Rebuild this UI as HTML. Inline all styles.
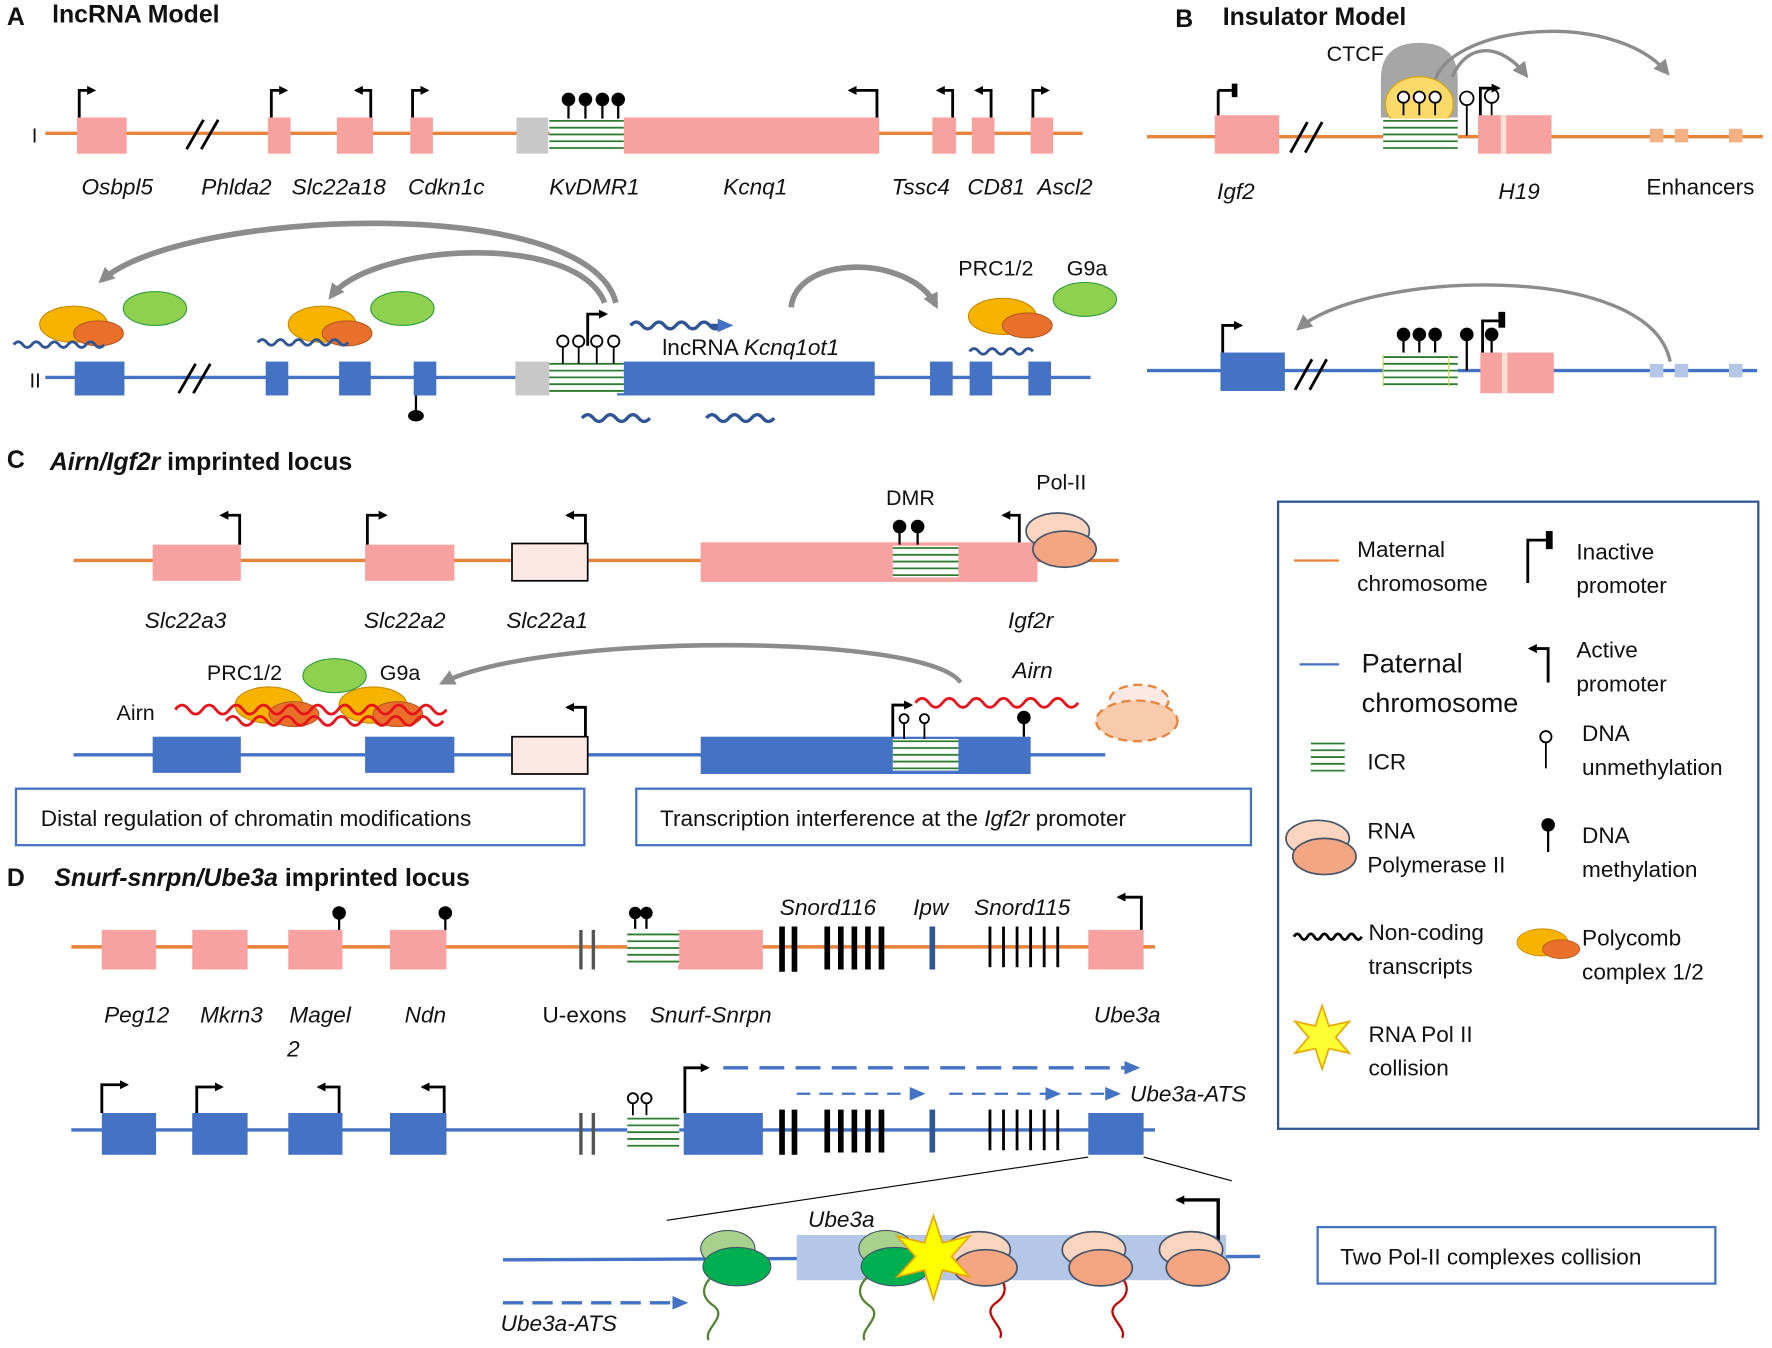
<!DOCTYPE html>
<html><head><meta charset="utf-8"><style>
html,body{margin:0;padding:0;background:#fff}
svg{display:block}
text{font-family:"Liberation Sans",sans-serif;fill:#111}
.it{font-style:italic}
.b{font-weight:bold}
</style></head><body>
<svg width="1772" height="1348" viewBox="0 0 1568 1193" xmlns="http://www.w3.org/2000/svg">
<defs>
<marker id="ah" markerWidth="8" markerHeight="8" refX="6" refY="4" orient="auto" markerUnits="userSpaceOnUse"><path d="M0,0 L8,4 L0,8 z" fill="#000"/></marker>
<marker id="ga" markerWidth="14" markerHeight="14" refX="10" refY="7" orient="auto" markerUnits="userSpaceOnUse"><path d="M0,0 L14,7 L0,14 z" fill="#8c8c8c"/></marker>
<marker id="ba" markerWidth="14" markerHeight="12" refX="10" refY="6" orient="auto" markerUnits="userSpaceOnUse"><path d="M0,0 L14,6 L0,12 z" fill="#4472c4"/></marker>
<g id="icr"><rect x="0" y="0" width="66" height="28" fill="#fff"/><path d="M0,2H66M0,8H66M0,14H66M0,20H66M0,26H66" stroke="#2e7d32" stroke-width="1.6"/></g>
<g id="icr2"><rect x="0" y="0" width="46" height="30" fill="#fff"/><path d="M0,3H46M0,9H46M0,15H46M0,21H46M0,27H46" stroke="#2e7d32" stroke-width="1.6"/></g>
<g id="pc"><ellipse cx="0" cy="0" rx="30" ry="16" fill="#f6b400" stroke="#c98a00"/><ellipse cx="22" cy="8" rx="22" ry="11" fill="#e8702a" stroke="#b85a20"/></g>
<g id="pol"><ellipse cx="0" cy="-10" rx="28" ry="16" fill="#fbd5bf" stroke="#44546a" stroke-width="1.5"/><ellipse cx="6" cy="6" rx="28" ry="16" fill="#f4a582" stroke="#44546a" stroke-width="1.5"/></g>
</defs>

<!-- ===== A ===== -->
<text x="6" y="22" font-size="22" class="b">A</text>
<text x="46" y="20" font-size="22" class="b">lncRNA Model</text>
<text x="28" y="126" font-size="18">I</text>
<line x1="40" y1="118" x2="958" y2="118" stroke="#e8833a" stroke-width="3"/>
<g fill="#f7a1a1">
<rect x="68" y="104" width="44" height="32"/><rect x="237" y="104" width="20" height="32"/><rect x="298" y="104" width="32" height="32"/><rect x="363" y="104" width="20" height="32"/><rect x="552" y="104" width="226" height="32"/><rect x="825" y="104" width="21" height="32"/><rect x="860" y="104" width="20" height="32"/><rect x="912" y="104" width="20" height="32"/></g>
<rect x="457" y="104" width="28" height="32" fill="#c8c8c8"/>
<use href="#icr" x="486" y="105"/>
<path d="M165,132 L180,106 M178,132 L193,106" stroke="#000" stroke-width="2.5"/>
<g stroke="#000" stroke-width="2.5" fill="none">
<path d="M70,104V80H83" marker-end="url(#ah)"/><path d="M240,104V80H253" marker-end="url(#ah)"/><path d="M328,104V80H315" marker-end="url(#ah)"/><path d="M365,104V80H378" marker-end="url(#ah)"/><path d="M776,104V80H752" marker-end="url(#ah)"/><path d="M843,104V80H830" marker-end="url(#ah)"/><path d="M877,104V80H864" marker-end="url(#ah)"/><path d="M914,104V80H927" marker-end="url(#ah)"/></g>
<g stroke="#000" stroke-width="2"><line x1="503" y1="90" x2="503" y2="105"/><line x1="518" y1="90" x2="518" y2="105"/><line x1="533" y1="90" x2="533" y2="105"/><line x1="547" y1="90" x2="547" y2="105"/></g>
<g fill="#000"><circle cx="503" cy="88" r="6"/><circle cx="518" cy="88" r="6"/><circle cx="533" cy="88" r="6"/><circle cx="547" cy="88" r="6"/></g>
<g font-size="20" class="it"><text x="72" y="172">Osbpl5</text><text x="178" y="172">Phlda2</text><text x="258" y="172">Slc22a18</text><text x="361" y="172">Cdkn1c</text><text x="486" y="172">KvDMR1</text><text x="640" y="172">Kcnq1</text><text x="789" y="172">Tssc4</text><text x="856" y="172">CD81</text><text x="918" y="172">Ascl2</text></g>

<!-- A II -->
<text x="26" y="343" font-size="18">II</text>
<line x1="40" y1="334" x2="965" y2="334" stroke="#4472c4" stroke-width="3"/>
<g fill="#4472c4"><rect x="66" y="320" width="44" height="30"/><rect x="235" y="320" width="20" height="30"/><rect x="300" y="320" width="28" height="30"/><rect x="366" y="320" width="20" height="30"/><rect x="546" y="320" width="228" height="30"/><rect x="823" y="320" width="20" height="30"/><rect x="858" y="320" width="20" height="30"/><rect x="910" y="320" width="20" height="30"/></g>
<rect x="456" y="320" width="30" height="30" fill="#c8c8c8"/>
<use href="#icr" x="486" y="320"/>
<path d="M158,348 L173,322 M171,348 L186,322" stroke="#000" stroke-width="2.5"/>
<line x1="368" y1="350" x2="368" y2="366" stroke="#000" stroke-width="2"/><ellipse cx="368" cy="368" rx="7" ry="5" fill="#000"/>
<g stroke="#000" stroke-width="1.6" fill="#fff"><line x1="498" y1="322" x2="498" y2="306"/><line x1="512" y1="322" x2="512" y2="306"/><line x1="528" y1="322" x2="528" y2="306"/><line x1="543" y1="322" x2="543" y2="306"/><circle cx="498" cy="302" r="5"/><circle cx="512" cy="302" r="5"/><circle cx="528" cy="302" r="5"/><circle cx="543" cy="302" r="5"/></g>
<path d="M520,306V278H536" stroke="#000" stroke-width="2.5" fill="none" marker-end="url(#ah)"/>
<path d="M558,288 q5,-6 10,0 t10,0 t10,0 t10,0 t10,0 t10,0 t10,0 t10,0" stroke="#2f5597" stroke-width="3" fill="none"/>
<path d="M628,288H645" stroke="#2f5597" stroke-width="3" marker-end="url(#ba)"/>
<text x="586" y="314" font-size="20">lncRNA <tspan class="it">Kcnq1ot1</tspan></text>
<path d="M515,370 q5,-6 10,0 t10,0 t10,0 t10,0 t10,0 t10,0" stroke="#2f5597" stroke-width="3" fill="none"/>
<path d="M625,370 q5,-6 10,0 t10,0 t10,0 t10,0 t10,0 t10,0" stroke="#2f5597" stroke-width="3" fill="none"/>
<g stroke="#8c8c8c" stroke-width="5" fill="none">
<path d="M545,268 C520,170 160,185 90,248" marker-end="url(#ga)"/>
<path d="M535,268 C510,205 330,215 293,262" marker-end="url(#ga)"/>
<path d="M700,272 C705,225 805,225 828,270" marker-end="url(#ga)"/></g>
<use href="#pc" x="65" y="287"/><ellipse cx="137" cy="273" rx="28" ry="15" fill="#8fd14f" stroke="#2e9e3e"/>
<use href="#pc" x="285" y="287"/><ellipse cx="356" cy="273" rx="28" ry="15" fill="#8fd14f" stroke="#2e9e3e"/>
<use href="#pc" x="887" y="280"/><ellipse cx="960" cy="265" rx="28" ry="15" fill="#8fd14f" stroke="#2e9e3e"/>
<path d="M12,305 q4,-5 8,0 t8,0 t8,0 t8,0 t8,0 t8,0 t8,0 t8,0 t8,0 t8,0" stroke="#2f5597" stroke-width="2.5" fill="none"/>
<path d="M228,303 q4,-5 8,0 t8,0 t8,0 t8,0 t8,0 t8,0 t8,0 t8,0 t8,0 t8,0" stroke="#2f5597" stroke-width="2.5" fill="none"/>
<path d="M858,311 q4,-5 8,0 t8,0 t8,0 t8,0 t8,0 t8,0 t8,0" stroke="#2f5597" stroke-width="2.5" fill="none"/>
<text x="848" y="244" font-size="19">PRC1/2</text><text x="944" y="244" font-size="19">G9a</text>

<!-- ===== B ===== -->
<text x="1040" y="24" font-size="22" class="b">B</text>
<text x="1082" y="22" font-size="22" class="b">Insulator Model</text>
<line x1="1015" y1="121" x2="1560" y2="121" stroke="#e8833a" stroke-width="3"/>
<rect x="1075" y="102" width="57" height="34" fill="#f7a1a1"/>
<path d="M1142,135 L1157,108 M1155,135 L1170,108" stroke="#000" stroke-width="2.5"/>
<path d="M1222,104 V70 Q1222,38 1256,38 Q1290,38 1290,70 V104 Z" fill="#a6a6a6"/>
<text x="1174" y="54" font-size="19">CTCF</text>
<ellipse cx="1256" cy="92" rx="30" ry="24" fill="#fcd96b" stroke="#d9a800"/>
<use href="#icr" x="1224" y="105"/>
<g stroke="#000" stroke-width="1.6" fill="#fff"><line x1="1242" y1="102" x2="1242" y2="90"/><line x1="1256" y1="102" x2="1256" y2="90"/><line x1="1270" y1="102" x2="1270" y2="90"/><circle cx="1242" cy="86" r="5"/><circle cx="1256" cy="86" r="5"/><circle cx="1270" cy="86" r="5"/><line x1="1298" y1="120" x2="1298" y2="92"/><circle cx="1298" cy="87" r="6"/><line x1="1320" y1="104" x2="1320" y2="90"/><circle cx="1320" cy="85" r="6"/></g>
<rect x="1308" y="102" width="65" height="34" fill="#f7a1a1"/><rect x="1328" y="102" width="5" height="34" fill="#fbe0d0"/>
<path d="M1310,102V78H1326" stroke="#000" stroke-width="2.5" fill="none" marker-end="url(#ah)"/>
<path d="M1078,102V80" stroke="#000" stroke-width="2.5"/><path d="M1078,80H1090" stroke="#000" stroke-width="2.5"/><rect x="1090" y="74" width="5" height="12" fill="#000"/>
<g fill="#f4b183"><rect x="1460" y="114" width="12" height="12"/><rect x="1482" y="114" width="12" height="12"/><rect x="1530" y="114" width="12" height="12"/></g>
<g stroke="#8c8c8c" stroke-width="3" fill="none"><path d="M1270,70 C1290,20 1430,10 1475,64" marker-end="url(#ga)"/><path d="M1285,68 C1300,35 1330,40 1350,66" marker-end="url(#ga)"/></g>
<text x="1077" y="176" font-size="20" class="it">Igf2</text><text x="1326" y="176" font-size="20" class="it">H19</text><text x="1457" y="172" font-size="20">Enhancers</text>
<line x1="1015" y1="328" x2="1555" y2="328" stroke="#4472c4" stroke-width="3"/>
<rect x="1080" y="312" width="57" height="34" fill="#4472c4"/>
<path d="M1146,345 L1161,318 M1159,345 L1174,318" stroke="#000" stroke-width="2.5"/>
<path d="M1082,312V288H1098" stroke="#000" stroke-width="2.5" fill="none" marker-end="url(#ah)"/>
<use href="#icr" x="1224" y="314"/>
<path d="M1224,314V342M1282,314V342" stroke="#c9d94a" stroke-width="1"/>
<rect x="1310" y="312" width="65" height="36" fill="#f7a1a1"/><rect x="1329" y="312" width="5" height="36" fill="#fbe0d0"/>
<g stroke="#000" stroke-width="2"><line x1="1242" y1="312" x2="1242" y2="298"/><line x1="1256" y1="312" x2="1256" y2="298"/><line x1="1270" y1="312" x2="1270" y2="298"/><line x1="1298" y1="328" x2="1298" y2="298"/><line x1="1320" y1="312" x2="1320" y2="298"/></g>
<g fill="#000"><circle cx="1242" cy="296" r="6"/><circle cx="1256" cy="296" r="6"/><circle cx="1270" cy="296" r="6"/><circle cx="1298" cy="296" r="6"/><circle cx="1320" cy="296" r="6"/></g>
<path d="M1312,312V284H1326" stroke="#000" stroke-width="2.5" fill="none"/><rect x="1326" y="276" width="6" height="14" fill="#000"/>
<g fill="#b4c7e7"><rect x="1460" y="322" width="12" height="12"/><rect x="1482" y="322" width="12" height="12"/><rect x="1530" y="322" width="12" height="12"/></g>
<path d="M1478,320 C1460,230 1210,240 1150,290" stroke="#8c8c8c" stroke-width="3" fill="none" marker-end="url(#ga)"/>

<!-- ===== C ===== -->
<text x="6" y="414" font-size="22" class="b">C</text>
<text x="44" y="416" font-size="22" class="b"><tspan class="it">Airn/Igf2r</tspan> imprinted locus</text>
<line x1="65" y1="496" x2="990" y2="496" stroke="#e8833a" stroke-width="3"/>
<rect x="135" y="482" width="78" height="32" fill="#f7a1a1"/><rect x="323" y="482" width="79" height="32" fill="#f7a1a1"/>
<rect x="453" y="481" width="67" height="33" fill="#fde9e4" stroke="#000" stroke-width="1.5"/>
<rect x="620" y="480" width="298" height="35" fill="#f7a1a1"/>
<g transform="translate(790,483) scale(0.88,1)"><use href="#icr"/></g>
<g stroke="#000" stroke-width="2.5" fill="none"><path d="M212,482V456H196" marker-end="url(#ah)"/><path d="M325,482V456H341" marker-end="url(#ah)"/><path d="M518,481V456H502" marker-end="url(#ah)"/><path d="M902,480V456H888" marker-end="url(#ah)"/></g>
<g stroke="#000" stroke-width="2"><line x1="796" y1="482" x2="796" y2="468"/><line x1="812" y1="482" x2="812" y2="468"/></g><circle cx="796" cy="466" r="6"/><circle cx="812" cy="466" r="6"/>
<use href="#pol" x="936" y="480"/>
<text x="784" y="447" font-size="19">DMR</text><text x="917" y="433" font-size="19">Pol-II</text>
<g font-size="20" class="it"><text x="128" y="556">Slc22a3</text><text x="322" y="556">Slc22a2</text><text x="448" y="556">Slc22a1</text><text x="892" y="556">Igf2r</text></g>
<line x1="65" y1="668" x2="978" y2="668" stroke="#4472c4" stroke-width="3"/>
<rect x="135" y="652" width="78" height="32" fill="#4472c4"/><rect x="323" y="652" width="79" height="32" fill="#4472c4"/>
<rect x="453" y="652" width="67" height="33" fill="#fde9e4" stroke="#000" stroke-width="1.5"/>
<rect x="620" y="652" width="292" height="33" fill="#4472c4"/>
<g transform="translate(790,654) scale(0.88,1)"><use href="#icr"/></g>
<path d="M518,652V626H502" stroke="#000" stroke-width="2.5" fill="none" marker-end="url(#ah)"/>
<path d="M790,652V624H806" stroke="#000" stroke-width="2.5" fill="none" marker-end="url(#ah)"/>
<g stroke="#000" stroke-width="1.6" fill="#fff"><line x1="800" y1="654" x2="800" y2="640"/><line x1="818" y1="654" x2="818" y2="640"/><circle cx="800" cy="636" r="4"/><circle cx="818" cy="636" r="4"/></g>
<line x1="906" y1="652" x2="906" y2="638" stroke="#000" stroke-width="2"/><circle cx="906" cy="635" r="6"/>
<path d="M810,622 q6,-8 12,0 t12,0 t12,0 t12,0 t12,0 t12,0 t12,0 t12,0 t12,0 t12,0 t12,0 t12,0" stroke="#e8141c" stroke-width="2.5" fill="none"/>
<text x="896" y="600" font-size="20" class="it">Airn</text>
<g transform="translate(1008,632)"><ellipse cx="0" cy="-12" rx="26" ry="14" fill="#fde9e4" stroke="#e8833a" stroke-width="2" stroke-dasharray="8,5"/><ellipse cx="-2" cy="6" rx="36" ry="18" fill="#f8cbad" stroke="#e8833a" stroke-width="2" stroke-dasharray="8,5"/></g>
<path d="M850,604 C820,560 480,560 392,604" stroke="#8c8c8c" stroke-width="4" fill="none" marker-end="url(#ga)"/>
<use href="#pc" x="238" y="624"/><use href="#pc" x="330" y="624"/>
<ellipse cx="296" cy="598" rx="28" ry="15" fill="#8fd14f" stroke="#2e9e3e"/>
<path d="M155,628 q6,-8 12,0 t12,0 t12,0 t12,0 t12,0 t12,0 t12,0 t12,0 t12,0 t12,0 t12,0 t12,0 t12,0 t12,0 t12,0 t12,0 t12,0 t12,0 t12,0 t12,0" stroke="#e8141c" stroke-width="2.5" fill="none"/>
<path d="M200,638 q6,-8 12,0 t12,0 t12,0 t12,0 t12,0 t12,0 t12,0 t12,0 t12,0 t12,0 t12,0 t12,0 t12,0 t12,0 t12,0 t12,0" stroke="#e8141c" stroke-width="2.5" fill="none"/>
<text x="103" y="637" font-size="19">Airn</text><text x="183" y="602" font-size="19">PRC1/2</text><text x="336" y="602" font-size="19">G9a</text>
<rect x="14" y="698" width="503" height="50" fill="#fff" stroke="#4472c4" stroke-width="2"/>
<text x="36" y="731" font-size="20">Distal regulation of chromatin modifications</text>
<rect x="563" y="698" width="544" height="50" fill="#fff" stroke="#4472c4" stroke-width="2"/>
<text x="584" y="731" font-size="20">Transcription interference at the <tspan class="it">Igf2r</tspan> promoter</text>

<!-- Legend -->
<rect x="1131" y="444" width="425" height="555" fill="#fff" stroke="#2f5597" stroke-width="2"/>
<line x1="1145" y1="496" x2="1185" y2="496" stroke="#e8833a" stroke-width="2"/>
<text x="1201" y="493" font-size="20">Maternal</text><text x="1201" y="523" font-size="20">chromosome</text>
<line x1="1150" y1="588" x2="1185" y2="588" stroke="#4472c4" stroke-width="2"/>
<text x="1205" y="595" font-size="24">Paternal</text><text x="1205" y="630" font-size="24">chromosome</text>
<path d="M1352,516V478H1368" stroke="#000" stroke-width="2.5" fill="none"/><rect x="1368" y="470" width="6" height="16" fill="#000"/>
<text x="1395" y="495" font-size="20">Inactive</text><text x="1395" y="525" font-size="20">promoter</text>
<path d="M1370,604V574H1354" stroke="#000" stroke-width="2.5" fill="none" marker-end="url(#ah)"/>
<text x="1395" y="582" font-size="20">Active</text><text x="1395" y="612" font-size="20">promoter</text>
<path d="M1160,658H1190M1160,664H1190M1160,670H1190M1160,676H1190M1160,682H1190" stroke="#2e7d32" stroke-width="1.6"/>
<text x="1210" y="681" font-size="20">ICR</text>
<circle cx="1368" cy="652" r="5" fill="#fff" stroke="#000" stroke-width="1.6"/><line x1="1368" y1="657" x2="1368" y2="680" stroke="#000" stroke-width="1.6"/>
<text x="1400" y="656" font-size="20">DNA</text><text x="1400" y="686" font-size="20">unmethylation</text>
<use href="#pol" x="1166" y="752"/>
<text x="1210" y="742" font-size="20">RNA</text><text x="1210" y="772" font-size="20">Polymerase II</text>
<circle cx="1370" cy="730" r="6"/><line x1="1370" y1="730" x2="1370" y2="754" stroke="#000" stroke-width="2"/>
<text x="1400" y="746" font-size="20">DNA</text><text x="1400" y="776" font-size="20">methylation</text>
<path d="M1145,829 q3,-5 6,0 t6,0 t6,0 t6,0 t6,0 t6,0 t6,0 t6,0 t6,0 t6,0" stroke="#000" stroke-width="2.5" fill="none"/>
<text x="1211" y="832" font-size="20">Non-coding</text><text x="1211" y="862" font-size="20">transcripts</text>
<g transform="translate(1365,834) scale(0.75)"><use href="#pc" x="0" y="0"/></g>
<text x="1400" y="837" font-size="20">Polycomb</text><text x="1400" y="867" font-size="20">complex 1/2</text>
<polygon points="1170,890 1176,908 1194,904 1182,918 1194,932 1176,928 1170,946 1164,928 1146,932 1158,918 1146,904 1164,908" fill="#ffff33" stroke="#e8a800" stroke-width="1.5"/>
<text x="1211" y="922" font-size="20">RNA Pol II</text><text x="1211" y="952" font-size="20">collision</text>

<!-- ===== D ===== -->
<text x="6" y="784" font-size="22" class="b">D</text>
<text x="48" y="784" font-size="22" class="b"><tspan class="it">Snurf-snrpn/Ube3a</tspan> imprinted locus</text>
<line x1="63" y1="838" x2="1022" y2="838" stroke="#e8833a" stroke-width="3"/>
<g fill="#f7a1a1"><rect x="90" y="823" width="48" height="35"/><rect x="170" y="823" width="49" height="35"/><rect x="255" y="823" width="48" height="35"/><rect x="345" y="823" width="50" height="35"/><rect x="600" y="823" width="75" height="35"/><rect x="963" y="823" width="49" height="35"/></g>
<use href="#icr2" x="555" y="824"/>
<g stroke="#000" stroke-width="2"><line x1="300" y1="823" x2="300" y2="810"/><line x1="394" y1="823" x2="394" y2="810"/><line x1="562" y1="822" x2="562" y2="810"/><line x1="572" y1="822" x2="572" y2="810"/></g>
<circle cx="300" cy="808" r="6"/><circle cx="394" cy="808" r="6"/><circle cx="562" cy="808" r="5.5"/><circle cx="572" cy="808" r="5.5"/>
<g stroke="#555" stroke-width="3"><line x1="514" y1="823" x2="514" y2="858"/><line x1="525" y1="823" x2="525" y2="858"/></g>
<g stroke="#000" stroke-width="5"><line x1="692" y1="820" x2="692" y2="860"/><line x1="703" y1="820" x2="703" y2="860"/><line x1="732" y1="820" x2="732" y2="858"/><line x1="744" y1="820" x2="744" y2="858"/><line x1="756" y1="820" x2="756" y2="858"/><line x1="768" y1="820" x2="768" y2="858"/><line x1="780" y1="820" x2="780" y2="858"/></g>
<line x1="825" y1="820" x2="825" y2="858" stroke="#2f5597" stroke-width="5"/>
<g stroke="#000" stroke-width="2.5"><line x1="876" y1="820" x2="876" y2="856"/><line x1="888" y1="820" x2="888" y2="856"/><line x1="900" y1="820" x2="900" y2="856"/><line x1="912" y1="820" x2="912" y2="856"/><line x1="924" y1="820" x2="924" y2="856"/><line x1="936" y1="820" x2="936" y2="856"/></g>
<path d="M1010,823V794H990" stroke="#000" stroke-width="2.5" fill="none" marker-end="url(#ah)"/>
<g font-size="20" class="it"><text x="92" y="905">Peg12</text><text x="177" y="905">Mkrn3</text><text x="256" y="905">Magel</text><text x="254" y="935">2</text><text x="358" y="905">Ndn</text><text x="575" y="905">Snurf-Snrpn</text><text x="690" y="810">Snord116</text><text x="808" y="810">Ipw</text><text x="862" y="810">Snord115</text><text x="968" y="905">Ube3a</text></g>
<text x="480" y="905" font-size="20">U-exons</text>
<!-- D row II -->
<line x1="63" y1="1000" x2="1022" y2="1000" stroke="#4472c4" stroke-width="3"/>
<g fill="#4472c4"><rect x="90" y="985" width="48" height="37"/><rect x="170" y="985" width="49" height="37"/><rect x="255" y="985" width="48" height="37"/><rect x="345" y="985" width="50" height="37"/><rect x="605" y="985" width="70" height="37"/><rect x="963" y="985" width="49" height="37"/></g>
<use href="#icr2" x="555" y="987"/>
<g stroke="#000" stroke-width="1.6" fill="#fff"><line x1="560" y1="987" x2="560" y2="976"/><line x1="572" y1="987" x2="572" y2="976"/><circle cx="560" cy="972" r="4.5"/><circle cx="572" cy="972" r="4.5"/></g>
<g stroke="#555" stroke-width="3"><line x1="514" y1="985" x2="514" y2="1022"/><line x1="525" y1="985" x2="525" y2="1022"/></g>
<g stroke="#000" stroke-width="5"><line x1="692" y1="982" x2="692" y2="1022"/><line x1="703" y1="982" x2="703" y2="1022"/><line x1="732" y1="982" x2="732" y2="1020"/><line x1="744" y1="982" x2="744" y2="1020"/><line x1="756" y1="982" x2="756" y2="1020"/><line x1="768" y1="982" x2="768" y2="1020"/><line x1="780" y1="982" x2="780" y2="1020"/></g>
<line x1="825" y1="982" x2="825" y2="1020" stroke="#2f5597" stroke-width="5"/>
<g stroke="#000" stroke-width="2.5"><line x1="876" y1="982" x2="876" y2="1018"/><line x1="888" y1="982" x2="888" y2="1018"/><line x1="900" y1="982" x2="900" y2="1018"/><line x1="912" y1="982" x2="912" y2="1018"/><line x1="924" y1="982" x2="924" y2="1018"/><line x1="936" y1="982" x2="936" y2="1018"/></g>
<g stroke="#000" stroke-width="2.5" fill="none"><path d="M90,985V960H112" marker-end="url(#ah)"/><path d="M174,985V962H196" marker-end="url(#ah)"/><path d="M300,985V962H282" marker-end="url(#ah)"/><path d="M393,985V962H374" marker-end="url(#ah)"/><path d="M606,985V945H626" marker-end="url(#ah)"/></g>
<path d="M640,945H1005" stroke="#4472c4" stroke-width="3" stroke-dasharray="22,10" marker-end="url(#ba)"/>
<path d="M705,968H815" stroke="#4472c4" stroke-width="2" stroke-dasharray="12,8" marker-end="url(#ba)"/>
<path d="M840,968H935" stroke="#4472c4" stroke-width="2" stroke-dasharray="12,8" marker-end="url(#ba)"/>
<path d="M945,968H988" stroke="#4472c4" stroke-width="2" stroke-dasharray="12,8" marker-end="url(#ba)"/>
<text x="1000" y="975" font-size="20" class="it">Ube3a-ATS</text>
<line x1="963" y1="1024" x2="590" y2="1080" stroke="#000" stroke-width="1"/><line x1="1012" y1="1024" x2="1090" y2="1045" stroke="#000" stroke-width="1"/>
<!-- inset -->
<line x1="445" y1="1115" x2="1115" y2="1112" stroke="#4472c4" stroke-width="3"/>
<rect x="705" y="1093" width="380" height="40" fill="#b4c7e7"/>
<text x="715" y="1086" font-size="20" class="it">Ube3a</text>
<path d="M1078,1100V1062H1042" stroke="#000" stroke-width="3" fill="none" marker-end="url(#ah)"/>
<g stroke="#548235" stroke-width="2" fill="none"><path d="M632,1128 c-12,10 -12,20 0,28 c12,10 -10,20 -5,30"/><path d="M770,1128 c-12,10 -12,20 0,28 c12,10 -10,20 -5,30"/></g>
<g stroke="#c00000" stroke-width="2" fill="none"><path d="M880,1126 c12,10 12,20 0,28 c-12,10 10,20 5,30"/><path d="M988,1126 c12,10 12,20 0,28 c-12,10 10,20 5,30"/></g>
<g transform="translate(650,1115)"><ellipse cx="-6" cy="-10" rx="24" ry="16" fill="#a9d18e" stroke="#44546a"/><ellipse cx="2" cy="6" rx="30" ry="17" fill="#00b050" stroke="#44546a"/></g>
<g transform="translate(790,1115)"><ellipse cx="-6" cy="-10" rx="24" ry="16" fill="#a9d18e" stroke="#44546a"/><ellipse cx="2" cy="6" rx="30" ry="17" fill="#00b050" stroke="#44546a"/></g>
<use href="#pol" x="866" y="1116"/><use href="#pol" x="968" y="1116"/><use href="#pol" x="1054" y="1116"/>
<polygon points="826,1076 834,1100 858,1094 842,1112 858,1130 834,1124 826,1150 818,1124 794,1130 810,1112 794,1094 818,1100" fill="#ffff00" stroke="#e8a800" stroke-width="1.5"/>
<path d="M445,1153H605" stroke="#4472c4" stroke-width="3" stroke-dasharray="18,8" marker-end="url(#ba)"/>
<text x="443" y="1178" font-size="20" class="it">Ube3a-ATS</text>
<rect x="1166" y="1086" width="352" height="50" fill="#fff" stroke="#4472c4" stroke-width="2"/>
<text x="1186" y="1119" font-size="20">Two Pol-II complexes collision</text>
</svg>
</body></html>
